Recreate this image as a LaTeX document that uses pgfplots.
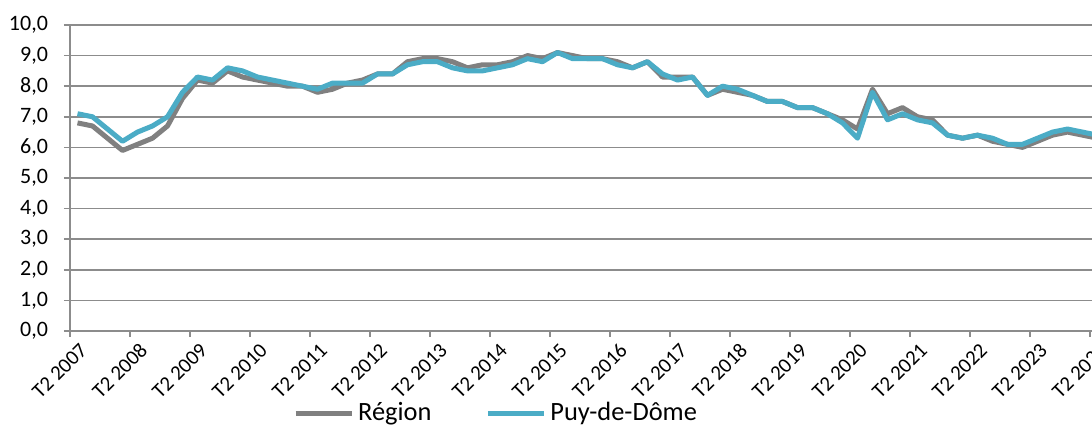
\documentclass[border=0pt]{standalone}
\usepackage{fontspec}
\setmainfont{Carlito}
\usepackage{pgfplots}
\pgfplotsset{compat=1.18}
\definecolor{gridgray}{RGB}{140,140,140}
\definecolor{regiongray}{RGB}{128,128,128}
\definecolor{puyblue}{RGB}{75,172,198}
\begin{document}
\begin{tikzpicture}
\begin{axis}[
  scale only axis, width=517.5pt, height=153pt,
  xmin=-0.5, xmax=68.5, ymin=0, ymax=10,
  axis lines=left,
  axis line style={-, gridgray, line width=0.8pt},
  tick align=outside, major tick length=3pt,
  tick style={gridgray, line width=0.8pt},
  ymajorgrids, grid style={gridgray, line width=0.8pt},
  ytick={0,1,...,10},
  /pgf/number format/assume math mode=true,
  yticklabel style={/pgf/number format/fixed, /pgf/number format/fixed zerofill, /pgf/number format/precision=1, /pgf/number format/use comma, /pgf/number format/assume math mode=true},
  yticklabel style={font=\fontsize{11}{13}\selectfont, black, xshift=-4.5pt},
  xtick={-0.5,3.5,...,67.5},
  xticklabels={T2 2007,T2 2008,T2 2009,T2 2010,T2 2011,T2 2012,T2 2013,T2 2014,T2 2015,T2 2016,T2 2017,T2 2018,T2 2019,T2 2020,T2 2021,T2 2022,T2 2023,T2 2024},
  xticklabel style={font=\fontsize{10.4}{12}\selectfont, black, xshift=9.25pt, yshift=-2.5pt, rotate=45, anchor=east},
  legend style={draw=none, fill=none, at={(0.4126,-0.268)}, anchor=center,
    legend columns=2, font=\fontsize{13.2}{15}\selectfont,
    /tikz/every even column/.append style={column sep=25pt},
    inner sep=0pt},
  legend image code/.code={\draw[#1, line width=2.5pt] (0pt,0pt) -- (28pt,0pt);},
]
\addplot[regiongray, line width=2.5pt, line join=round] coordinates {
(0,6.8) (1,6.7) (2,6.3) (3,5.9) (4,6.1) (5,6.3) (6,6.7) (7,7.6) (8,8.2) (9,8.1)
(10,8.5) (11,8.3) (12,8.2) (13,8.1) (14,8.0) (15,8.0) (16,7.8) (17,7.9) (18,8.1) (19,8.2)
(20,8.4) (21,8.4) (22,8.8) (23,8.9) (24,8.9) (25,8.8) (26,8.6) (27,8.7) (28,8.7) (29,8.8)
(30,9.0) (31,8.9) (32,9.1) (33,9.0) (34,8.9) (35,8.9) (36,8.8) (37,8.6) (38,8.8) (39,8.3)
(40,8.3) (41,8.3) (42,7.7) (43,7.9) (44,7.8) (45,7.7) (46,7.5) (47,7.5) (48,7.3) (49,7.3)
(50,7.1) (51,6.9) (52,6.6) (53,7.9) (54,7.1) (55,7.3) (56,7.0) (57,6.9) (58,6.4) (59,6.3)
(60,6.4) (61,6.2) (62,6.1) (63,6.0) (64,6.2) (65,6.4) (66,6.5) (67,6.4) (68,6.3)
};
\addlegendentry{Région}
\addplot[puyblue, line width=2.5pt, line join=round] coordinates {
(0,7.1) (1,7.0) (2,6.6) (3,6.2) (4,6.5) (5,6.7) (6,7.0) (7,7.8) (8,8.3) (9,8.2)
(10,8.6) (11,8.5) (12,8.3) (13,8.2) (14,8.1) (15,8.0) (16,7.9) (17,8.1) (18,8.1) (19,8.1)
(20,8.4) (21,8.4) (22,8.7) (23,8.8) (24,8.8) (25,8.6) (26,8.5) (27,8.5) (28,8.6) (29,8.7)
(30,8.9) (31,8.8) (32,9.1) (33,8.9) (34,8.9) (35,8.9) (36,8.7) (37,8.6) (38,8.8) (39,8.4)
(40,8.2) (41,8.3) (42,7.7) (43,8.0) (44,7.9) (45,7.7) (46,7.5) (47,7.5) (48,7.3) (49,7.3)
(50,7.1) (51,6.8) (52,6.3) (53,7.8) (54,6.9) (55,7.1) (56,6.9) (57,6.8) (58,6.4) (59,6.3)
(60,6.4) (61,6.3) (62,6.1) (63,6.1) (64,6.3) (65,6.5) (66,6.6) (67,6.5) (68,6.4)
};
\addlegendentry{Puy-de-Dôme}
\end{axis}
\pgfresetboundingbox
\path[use as bounding box] (-35pt,-47.5pt) rectangle (511pt,165.5pt);
\end{tikzpicture}
\end{document}
